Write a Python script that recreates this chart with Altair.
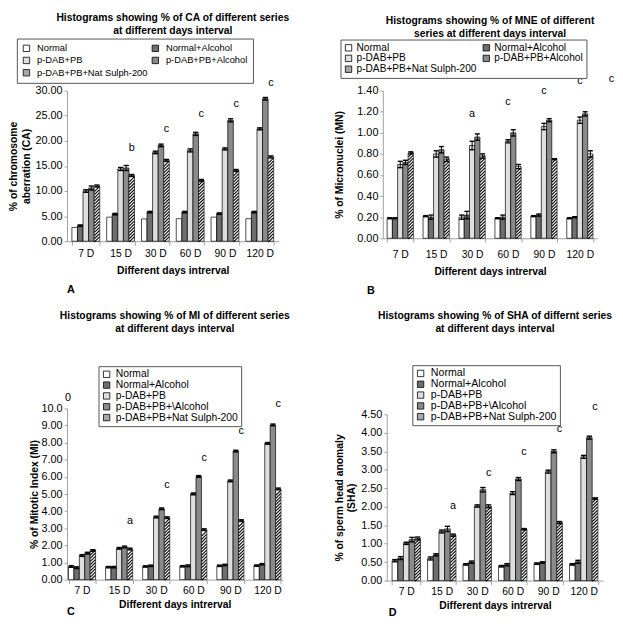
import altair as alt
import pandas as pd

DAYS = ["7 D", "15 D", "30 D", "60 D", "90 D", "120 D"]
SERIES_AB = ["Normal", "Normal+Alcohol", "p-DAB+PB", "p-DAB+PB+Alcohol", "p-DAB+PB+Nat Sulph-200"]
SERIES_CD = ["Normal", "Normal+Alcohol", "p-DAB+PB", "p-DAB+PB+\\Alcohol", "p-DAB+PB+Nat Sulph-200"]

# ---- Panel A: % chromosome aberration (CA)
CA_normal      = [2.75, 4.8, 4.45, 4.5, 4.8, 4.5]
CA_normal_alc  = [3.1, 5.4, 5.8, 5.8, 5.5, 5.8]
CA_pdab        = [10.0, 14.4, 17.7, 18.1, 18.4, 22.4]
CA_pdab_alc    = [10.6, 14.6, 19.1, 21.4, 24.1, 28.4]
CA_natsulph    = [11.0, 13.1, 16.1, 12.1, 14.1, 16.8]
CA_err_normal     = [0, 0, 0, 0, 0, 0]
CA_err_normal_alc = [0.15, 0.15, 0.15, 0.15, 0.15, 0.15]
CA_err_pdab       = [0.25, 0.3, 0.25, 0.3, 0.2, 0.2]
CA_err_pdab_alc   = [0.4, 0.5, 0.25, 0.3, 0.3, 0.25]
CA_err_natsulph   = [0.2, 0.2, 0.2, 0.2, 0.2, 0.2]
CA_letters   = ["", "b", "c", "c", "c", "c"]
CA_letter_y  = [0, 18.6, 22.4, 25.3, 27.3, 31.5]

# ---- Panel B: % micronuclei (MN)
MN_normal      = [0.19, 0.21, 0.20, 0.19, 0.21, 0.19]
MN_normal_alc  = [0.19, 0.20, 0.22, 0.20, 0.22, 0.20]
MN_pdab        = [0.70, 0.80, 0.88, 0.92, 1.06, 1.12]
MN_pdab_alc    = [0.72, 0.84, 0.96, 1.00, 1.12, 1.18]
MN_natsulph    = [0.81, 0.75, 0.78, 0.68, 0.75, 0.80]
MN_err_normal     = [0.005, 0.005, 0.02, 0.005, 0.005, 0.005]
MN_err_normal_alc = [0.005, 0.02, 0.035, 0.02, 0.01, 0.005]
MN_err_pdab       = [0.03, 0.03, 0.04, 0.015, 0.03, 0.03]
MN_err_pdab_alc   = [0.02, 0.03, 0.03, 0.03, 0.015, 0.02]
MN_err_natsulph   = [0.01, 0.02, 0.02, 0.02, 0.005, 0.03]
MN_letters   = ["", "", "a", "c", "c", "c"]
MN_letter_y  = [0, 0, 1.18, 1.29, 1.40, 1.49]

# ---- Panel C: % mitotic index (MI)
MI_normal      = [0.77, 0.73, 0.77, 0.78, 0.81, 0.82]
MI_normal_alc  = [0.70, 0.73, 0.81, 0.81, 0.86, 0.90]
MI_pdab        = [1.41, 1.83, 3.66, 5.01, 5.77, 7.96]
MI_pdab_alc    = [1.55, 1.91, 4.14, 6.03, 7.51, 9.04]
MI_natsulph    = [1.70, 1.79, 3.62, 2.92, 3.45, 5.30]
MI_err_normal     = [0.05, 0.04, 0.04, 0.04, 0.04, 0.04]
MI_err_normal_alc = [0.05, 0.04, 0.04, 0.05, 0.04, 0.04]
MI_err_pdab       = [0.05, 0.05, 0.05, 0.05, 0.05, 0.05]
MI_err_pdab_alc   = [0.05, 0.05, 0.05, 0.05, 0.05, 0.05]
MI_err_natsulph   = [0.05, 0.05, 0.05, 0.05, 0.05, 0.05]
MI_letters   = ["", "a", "c", "c", "c", "c"]
MI_letter_y  = [0, 3.45, 5.5, 7.1, 8.7, 10.25]
MI_corner_mark = "0"
MI_corner_y    = 10.6

# ---- Panel D: % sperm head anomaly (SHA)
SHA_normal      = [0.54, 0.60, 0.44, 0.39, 0.46, 0.44]
SHA_normal_alc  = [0.61, 0.70, 0.50, 0.43, 0.49, 0.51]
SHA_pdab        = [1.01, 1.33, 2.02, 2.37, 2.95, 3.35]
SHA_pdab_alc    = [1.11, 1.40, 2.46, 2.75, 3.50, 3.87]
SHA_natsulph    = [1.14, 1.23, 2.01, 1.39, 1.57, 2.22]
SHA_err_normal     = [0.03, 0.04, 0.02, 0.02, 0.02, 0.02]
SHA_err_normal_alc = [0.04, 0.03, 0.03, 0.03, 0.02, 0.04]
SHA_err_pdab       = [0.03, 0.04, 0.03, 0.04, 0.04, 0.04]
SHA_err_pdab_alc   = [0.06, 0.07, 0.06, 0.04, 0.04, 0.04]
SHA_err_natsulph   = [0.04, 0.03, 0.04, 0.02, 0.03, 0.02]
SHA_letters  = ["", "a", "c", "c", "c", "c"]
SHA_letter_y = [0, 2.02, 2.9, 3.48, 4.1, 4.69]

FILLS = ["#ffffff", "#6e6e6e", "#dedede", "#8a8a8a", "#a8a8a8"]
FONT = "Liberation Sans"
AXIS_GREY = "#a0a0a0"


def panel(vals, errs, series, letters, letter_y, letter_idx, ymax, yvalues, ylabel_expr,
          ytitle, title, w, h, pi, po, legend_kw, tag, tag_pos, title_offset,
          xlab_pad, xtitle_pad, ytitle_pad, extra=None, corner=None):
    rows = []
    for si, s in enumerate(series):
        for di, d in enumerate(DAYS):
            rows.append(dict(day=d, series=s, si=si, value=vals[si][di], err=errs[si][di]))
    df = pd.DataFrame(rows)

    step = w / (len(DAYS) - pi + 2 * po)
    sub = step * (1 - pi) / len(series)

    xscale = alt.Scale(domain=DAYS, paddingInner=pi, paddingOuter=po)
    oscale = alt.Scale(domain=series)
    yscale = alt.Scale(domain=[0, ymax], nice=False, zero=True)

    xaxis = alt.Axis(title="Different days intrerval", labelAngle=0, tickBand="extent",
                     domainColor=AXIS_GREY, tickColor=AXIS_GREY, tickSize=4,
                     labelFontSize=10.5, labelPadding=xlab_pad, labelColor="black",
                     titleFontSize=10.5, titleFontWeight="bold", titlePadding=xtitle_pad,
                     titleColor="black")
    yaxis = alt.Axis(values=yvalues, labelExpr=ylabel_expr, grid=False,
                     domainColor=AXIS_GREY, tickColor=AXIS_GREY, tickSize=3,
                     labelFontSize=11, labelPadding=2, labelColor="black",
                     title=ytitle, titleFontSize=10.5, titleFontWeight="bold",
                     titlePadding=ytitle_pad, titleColor="black", titleLineHeight=13)

    X = alt.X("day:N", sort=DAYS, scale=xscale, axis=xaxis)
    XO = alt.XOffset("series:N", sort=series, scale=oscale)

    def Y(field):
        return alt.Y(field, scale=yscale, axis=yaxis)

    legend = alt.Legend(title=None, orient="none", gridAlign="each",
                        fillColor="white", strokeColor="#555555",
                        symbolType="square", symbolStrokeColor="black",
                        symbolStrokeWidth=0.8, labelFont=FONT, labelColor="black",
                        labelLimit=0, **legend_kw)

    bars = alt.Chart(df).mark_bar(stroke="black", strokeWidth=0.7).encode(
        x=X, xOffset=XO, y=Y("value:Q"),
        fill=alt.condition("datum.si == 4", alt.value("white"),
                           alt.Fill("series:N", scale=alt.Scale(domain=series, range=FILLS),
                                    legend=legend)),
    )

    hstep = ymax * 3.2 / h
    hatch = alt.Chart(df).transform_filter("datum.si == 4").transform_calculate(
        hy=f"sequence({hstep * 0.6}, datum.value - {hstep * 0.4}, {hstep})"
    ).transform_flatten(["hy"]).mark_point(
        shape="M-1,1L1,-1", size=(sub * 0.92) ** 2, filled=False, color="black",
        stroke="black", strokeWidth=1.1, opacity=1
    ).encode(x=X, xOffset=XO, y=Y("hy:Q"))

    eb = alt.Chart(df).transform_filter("datum.err > 0").transform_calculate(
        lo="datum.value - datum.err", hi="datum.value + datum.err")
    rule = eb.mark_rule(color="black", strokeWidth=1).encode(
        x=X, xOffset=XO, y=Y("lo:Q"), y2="hi:Q")
    cap_hi = eb.mark_tick(color="black", thickness=1.4, size=sub * 0.95, opacity=1).encode(
        x=X, xOffset=XO, y=Y("hi:Q"))
    cap_lo = eb.mark_tick(color="black", thickness=1.4, size=sub * 0.95, opacity=1).encode(
        x=X, xOffset=XO, y=Y("lo:Q"))

    ldf = pd.DataFrame([dict(day=d, series=series[letter_idx], ly=letter_y[i], lab=letters[i])
                        for i, d in enumerate(DAYS) if letters[i]])
    text = alt.Chart(ldf).mark_text(fontSize=11, font=FONT, color="black").encode(
        x=X, xOffset=XO, y=Y("ly:Q"), text="lab:N")

    tagt = alt.Chart(pd.DataFrame([{"t": tag}])).mark_text(
        fontSize=11, fontWeight="bold", font=FONT, color="black", align="left").encode(
        x=alt.value(tag_pos[0]), y=alt.value(h + tag_pos[1]), text="t:N")

    layers = [bars, hatch, rule, cap_hi, cap_lo, text, tagt]
    if extra is not None:
        edf = pd.DataFrame([dict(day=extra["day"], series=series[extra["idx"]],
                                 ly=extra["y"], lab=extra["lab"])])
        layers.append(alt.Chart(edf).mark_text(fontSize=11, font=FONT, color="black",
                                               dx=extra["dx"]).encode(
            x=X, xOffset=XO, y=Y("ly:Q"), text="lab:N"))
    if corner is not None:
        cdf = pd.DataFrame([dict(ly=corner[1], lab=corner[0])])
        layers.append(alt.Chart(cdf).mark_text(fontSize=11, font=FONT, color="black",
                                               align="center").encode(
            x=alt.value(1), y=Y("ly:Q"), text="lab:N"))

    return alt.layer(*layers).properties(
        width=w, height=h,
        title=alt.TitleParams(text=title, fontSize=10.5, fontWeight="bold", font=FONT,
                              anchor="middle", offset=title_offset, lineHeight=12.5,
                              color="black"),
    )


fmt2 = "format(datum.value, '.2f')"

A = panel([CA_normal, CA_normal_alc, CA_pdab, CA_pdab_alc, CA_natsulph],
          [CA_err_normal, CA_err_normal_alc, CA_err_pdab, CA_err_pdab_alc, CA_err_natsulph],
          SERIES_AB, CA_letters, CA_letter_y, 4, 30, [0, 5, 10, 15, 20, 25, 30], fmt2,
          ["% of chromosome", "aberration (CA)"],
          ["Histograms showing % of CA of different series", "at different days interval"],
          215, 153, 0.2, 0.14,
          dict(legendX=-51, legendY=-53, columns=2, direction="horizontal", padding=5,
               labelFontSize=9.5, symbolSize=42, labelOffset=6, rowPadding=1.5,
               columnPadding=2),
          "A", (0, 50), 2, 4, 6, 4)

B = panel([MN_normal, MN_normal_alc, MN_pdab, MN_pdab_alc, MN_natsulph],
          [MN_err_normal, MN_err_normal_alc, MN_err_pdab, MN_err_pdab_alc, MN_err_natsulph],
          SERIES_AB, MN_letters, MN_letter_y, 2, 1.4,
          [0, 0.2, 0.4, 0.6, 0.8, 1.0, 1.2, 1.4], fmt2,
          "% of Micronuclei (MN)",
          ["Histograms showing % of MNE of different", "series at different days interval"],
          218, 150, 0.27, 0.12,
          dict(legendX=-43, legendY=-52, columns=2, direction="horizontal", padding=3,
               labelFontSize=10.3, symbolSize=42, labelOffset=3, rowPadding=-0.5,
               columnPadding=4),
          "B", (-16, 54), 0, 8, 6, 13,
          extra=dict(day="120 D", idx=2, y=1.51, lab="c", dx=32))

C = panel([MI_normal, MI_normal_alc, MI_pdab, MI_pdab_alc, MI_natsulph],
          [MI_err_normal, MI_err_normal_alc, MI_err_pdab, MI_err_pdab_alc, MI_err_natsulph],
          SERIES_CD, MI_letters, MI_letter_y, 4, 10, list(range(0, 11)),
          "datum.value == 10 ? '10.0' : format(datum.value, '.2f')",
          "% of Mitotic Index (MI)",
          ["Histograms showing % of MI of different series", "at different days interval"],
          219, 174, 0.27, 0.04,
          dict(legendX=32, legendY=-43, columns=1, direction="vertical", padding=3,
               labelFontSize=10.5, symbolSize=42, labelOffset=4, rowPadding=-1.5),
          "C", (0, 33), 32, 2, 4, 2,
          corner=(MI_corner_mark, MI_corner_y))

D = panel([SHA_normal, SHA_normal_alc, SHA_pdab, SHA_pdab_alc, SHA_natsulph],
          [SHA_err_normal, SHA_err_normal_alc, SHA_err_pdab, SHA_err_pdab_alc, SHA_err_natsulph],
          SERIES_CD, SHA_letters, SHA_letter_y, 4, 4.5,
          [0, 0.5, 1, 1.5, 2, 2.5, 3, 3.5, 4, 4.5], fmt2,
          ["% of sperm head anomaly", "(SHA)"],
          ["Histograms showing % of SHA of differnt series", "at different days interval"],
          220, 169, 0.2, 0.15,
          dict(legendX=26, legendY=-50, columns=1, direction="vertical", padding=3,
               labelFontSize=10.8, symbolSize=42, labelOffset=5, rowPadding=-1.5),
          "D", (2, 33), 31, 2, 4, 4)

chart = alt.concat(A, B, C, D, columns=2, align="none",
                   spacing={"row": 15, "column": 44}).resolve_scale(
    fill="independent", x="independent", y="independent", xOffset="independent"
).resolve_legend(fill="independent").properties(padding=0).configure(
    font=FONT).configure_view(stroke=None)

chart.save("out.html", embed_options={"renderer": "svg", "actions": False})
